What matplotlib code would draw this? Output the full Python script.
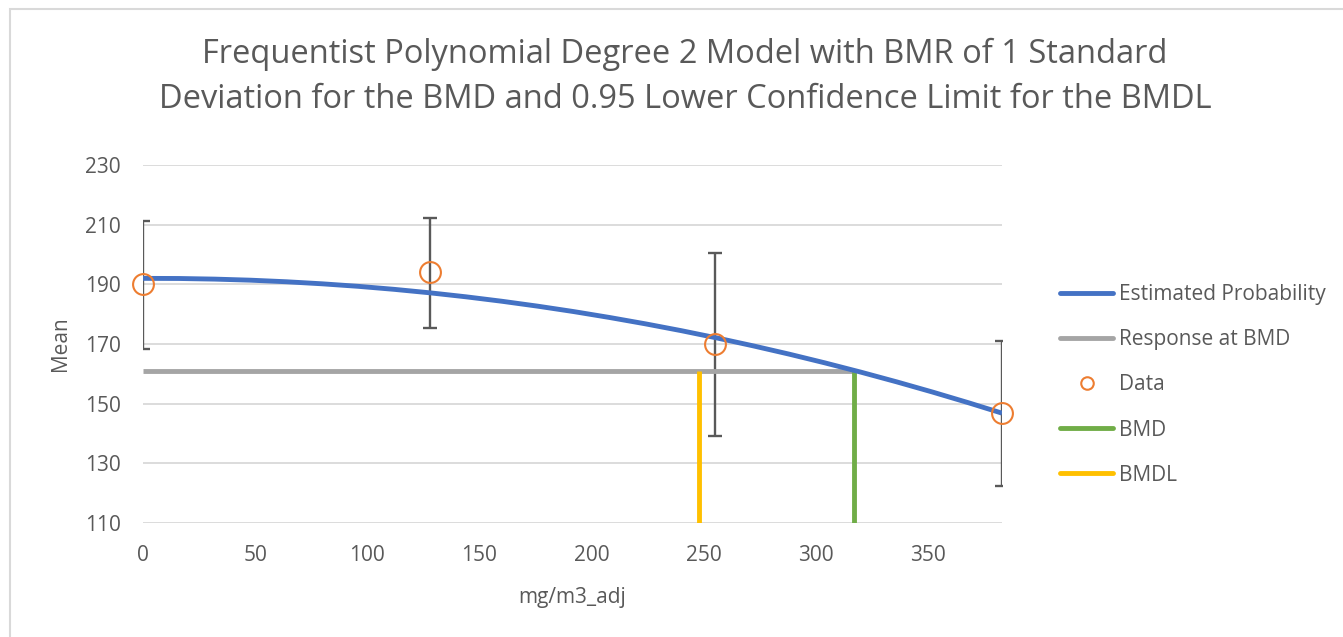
import matplotlib
matplotlib.use("Agg")
import matplotlib.pyplot as plt
from matplotlib.lines import Line2D
from matplotlib.patches import Rectangle

plt.rcParams['font.family'] = ['Open Sans', 'DejaVu Sans']

# ---- data ----
dose = [0, 128, 255, 383]
mean = [190, 194, 170, 147]
err_low = [168.3, 175.5, 139.0, 122.5]
err_high = [211.3, 212.1, 200.5, 171.0]

curve_x = [0, 16, 32, 48, 64, 80, 96, 112, 128, 144, 160, 176, 192, 208,
           224, 240, 256, 272, 288, 304, 320, 336, 352, 368, 383]
curve_y = [192.0, 191.96, 191.75, 191.39, 190.86, 190.17, 189.33, 188.32,
           187.15, 185.82, 184.33, 182.68, 180.87, 178.89, 176.76, 174.47,
           172.01, 169.39, 166.62, 163.68, 160.58, 157.32, 153.90, 150.32,
           146.82]

bmd = 317
bmdl = 248
bmd_response = 161

title = ("Frequentist Polynomial Degree 2 Model with BMR of 1 Standard\n"
         "Deviation for the BMD and 0.95 Lower Confidence Limit for the BMDL")
yticks = [110, 130, 150, 170, 190, 210, 230]
xticks = [0, 50, 100, 150, 200, 250, 300, 350]

# ---- colors ----
c_blue = '#4472C4'
c_gray = '#A5A5A5'
c_orange = '#ED7D31'
c_green = '#70AD47'
c_yellow = '#FFC000'
c_text = '#595959'
c_grid = '#D9D9D9'

W, H = 1343, 637
fig = plt.figure(figsize=(W / 100, H / 100), dpi=100)
fig.patch.set_facecolor('white')

# chart border (only top and left visible)
fig.add_artist(Rectangle((10 / W, -0.1), 1.2, 1 - 9 / H + 0.1, transform=fig.transFigure,
                         fill=False, edgecolor=c_grid, linewidth=1.5))

ax = fig.add_axes([143 / W, 1 - 523 / H, (1002 - 143) / W, (523 - 165) / H])
ax.set_xlim(0, 383)
ax.set_ylim(110, 230)
ax.set_yticks(yticks)
ax.set_xticks(xticks)
for s in ax.spines.values():
    s.set_visible(False)
ax.tick_params(axis='both', length=0, labelsize=15, colors=c_text)
ax.tick_params(axis='y', pad=16)
ax.tick_params(axis='x', pad=16)
ax.yaxis.grid(True, color=c_grid, linewidth=1.3)
ax.set_axisbelow(True)

# error bars
lower = [m - l for m, l in zip(mean, err_low)]
upper = [h - m for m, h in zip(mean, err_high)]
ax.errorbar(dose, mean, yerr=[lower, upper], fmt='none', ecolor=c_text,
            elinewidth=1.7, capsize=5, capthick=1.7, zorder=2)

# curve
ax.plot(curve_x, curve_y, color=c_blue, linewidth=3.5, solid_capstyle='butt', zorder=3)
# response at BMD
ax.plot([0, bmd], [bmd_response, bmd_response], color=c_gray, linewidth=3.5,
        solid_capstyle='butt', zorder=2.5)
# BMD & BMDL
ax.plot([bmd, bmd], [110, bmd_response], color=c_green, linewidth=3.5,
        solid_capstyle='butt', zorder=2.6)
ax.plot([bmdl, bmdl], [110, bmd_response], color=c_yellow, linewidth=3.5,
        solid_capstyle='butt', zorder=2.6)
# data
ax.plot(dose, mean, linestyle='none', marker='o', markersize=15, markerfacecolor='none',
        markeredgecolor=c_orange, markeredgewidth=1.5, clip_on=False, zorder=4)

ax.set_xlabel('mg/m3_adj', fontsize=15, color=c_text, labelpad=15)
ax.set_ylabel('Mean', fontsize=15, color=c_text, labelpad=10)

fig.text(685 / W, 1 - 77 / H, title, ha='center', va='center', fontsize=23.5,
         color=c_text, linespacing=1.5)

handles = [
    Line2D([], [], color=c_blue, linewidth=3.5, solid_capstyle='round'),
    Line2D([], [], color=c_gray, linewidth=3.5, solid_capstyle='round'),
    Line2D([], [], linestyle='none', marker='o', markersize=9, markerfacecolor='none',
           markeredgecolor=c_orange, markeredgewidth=1.5),
    Line2D([], [], color=c_green, linewidth=3.5, solid_capstyle='round'),
    Line2D([], [], color=c_yellow, linewidth=3.5, solid_capstyle='round'),
]
labels = ['Estimated Probability', 'Response at BMD', 'Data', 'BMD', 'BMDL']
leg = fig.legend(handles, labels, loc='upper left', bbox_to_anchor=(1060 / W, 1 - 284 / H),
                 frameon=False, fontsize=15, handlelength=2.55, handletextpad=0.3,
                 labelspacing=1.16, borderaxespad=0, borderpad=0)
for t in leg.get_texts():
    t.set_color(c_text)

fig.savefig('out.png', dpi=100, facecolor='white')
